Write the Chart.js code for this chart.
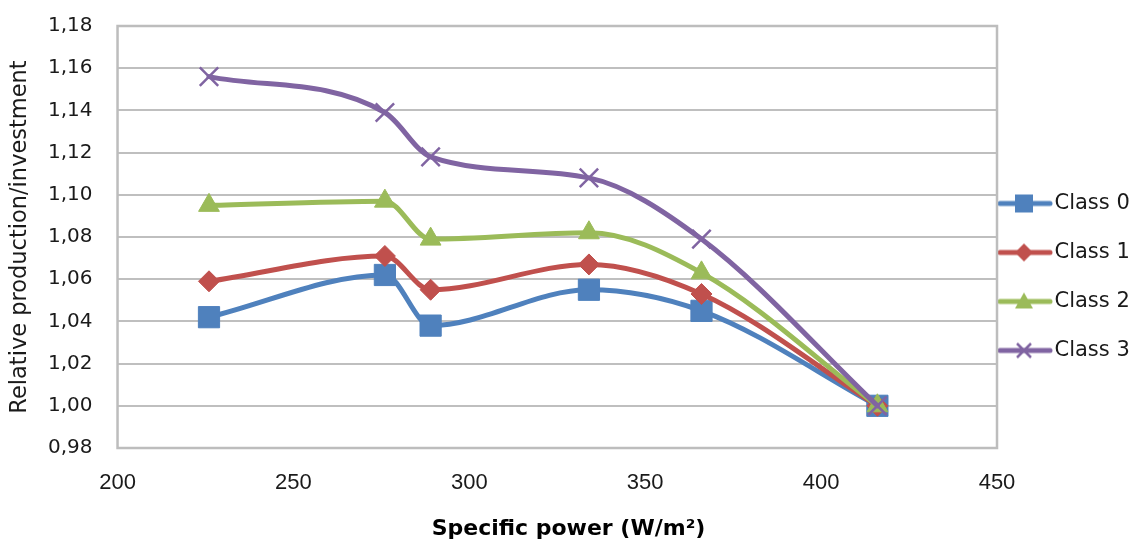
<!DOCTYPE html>
<html>
<head>
<meta charset="utf-8">
<script src="https://cdn.jsdelivr.net/npm/chart.js@4.4.1/dist/chart.umd.min.js"></script>
<style>
html,body{margin:0;padding:0;background:#ffffff;}
#wrap{width:1137px;height:544px;position:relative;}
</style>
</head>
<body>
<div id="wrap"><canvas id="chart"></canvas></div>
<script>
// ---- data ----
const specificPower = [226, 276, 289, 334, 366, 416];
const class0 = [1.042, 1.062, 1.038, 1.055, 1.045, 1.000];
const class1 = [1.059, 1.071, 1.055, 1.067, 1.053, 1.000];
const class2 = [1.095, 1.097, 1.079, 1.082, 1.063, 1.000];
const class3 = [1.156, 1.139, 1.118, 1.108, 1.079, 1.000];
const seriesNames = ['Class 0', 'Class 1', 'Class 2', 'Class 3'];
const xAxisRange = [200, 450, 50];   // min, max, step
const yAxisRange = [0.98, 1.18, 0.02];
const xTitle = 'Specific power (W/m²)';
const yTitle = 'Relative production/investment';

// ---- styles ----
const colors = ['#4F81BD', '#C0504D', '#9BBB59', '#8064A2'];
const styles = ['rect', 'rectRot', 'triangle', 'crossRot'];
const radii = [15, 10.5, 12, 13];
const seriesValues = [class0, class1, class2, class3];

function toPoints(xs, ys) { return xs.map((x, i) => ({x: x, y: ys[i]})); }

// legend icons: line with marker
function makeIcon(i) {
  const c = document.createElement('canvas');
  c.width = 75; c.height = 24;
  const g = c.getContext('2d');
  const col = colors[i];
  const cy = 12, cx = 27;
  g.strokeStyle = col; g.lineWidth = 5; g.lineCap = 'round';
  g.beginPath(); g.moveTo(3, cy); g.lineTo(53, cy); g.stroke();
  g.fillStyle = col;
  if (i === 0) {
    g.fillRect(cx - 9, cy - 9, 18, 18);
  } else if (i === 1) {
    g.beginPath(); g.moveTo(cx - 9, cy); g.lineTo(cx, cy - 9); g.lineTo(cx + 9, cy); g.lineTo(cx, cy + 9); g.closePath(); g.fill();
  } else if (i === 2) {
    g.beginPath(); g.moveTo(cx, cy - 9); g.lineTo(cx + 9, cy + 7); g.lineTo(cx - 9, cy + 7); g.closePath(); g.fill();
  } else {
    g.lineWidth = 2.5; g.lineCap = 'butt';
    g.beginPath(); g.moveTo(cx - 7, cy - 7); g.lineTo(cx + 7, cy + 7); g.moveTo(cx + 7, cy - 7); g.lineTo(cx - 7, cy + 7); g.stroke();
  }
  return c;
}
const legendIcons = [0, 1, 2, 3].map(makeIcon);

const datasets = seriesNames.map((name, i) => ({
  label: name,
  data: toPoints(specificPower, seriesValues[i]),
  borderColor: colors[i],
  backgroundColor: colors[i],
  borderWidth: 5,
  borderCapStyle: 'round',
  borderJoinStyle: 'round',
  cubicInterpolationMode: 'monotone',
  tension: 0.4,
  pointStyle: styles[i],
  pointRadius: radii[i],
  pointHoverRadius: radii[i],
  pointBackgroundColor: colors[i],
  pointBorderColor: colors[i],
  pointBorderWidth: i === 3 ? 2.5 : 1,
  order: 3 - i,
  clip: false
}));

const plotFrame = {
  id: 'plotFrame',
  beforeDatasetsDraw(chart) {
    const {ctx, chartArea: a} = chart;
    ctx.save();
    ctx.strokeStyle = '#bdbdbd';
    ctx.lineWidth = 2.5;
    ctx.strokeRect(a.left, a.top, a.right - a.left, a.bottom - a.top);
    ctx.restore();
  }
};

new Chart(document.getElementById('chart'), {
  type: 'line',
  data: {datasets: datasets},
  plugins: [plotFrame],
  options: {
    responsive: true,
    maintainAspectRatio: false,
    animation: false,
    layout: {padding: {top: 17, bottom: 7, left: 0, right: 0}},
    scales: {
      x: {
        type: 'linear',
        min: xAxisRange[0], max: xAxisRange[1],
        grid: {display: false, drawTicks: false},
        border: {display: false},
        ticks: {
          stepSize: xAxisRange[2],
          padding: 22,
          color: '#1a1a1a',
          font: {family: '"Liberation Sans", Arial, sans-serif', size: 22, lineHeight: 1.2}
        }
      },
      y: {
        min: yAxisRange[0], max: yAxisRange[1],
        grid: {color: '#bfbfbf', lineWidth: 2, drawTicks: true, tickLength: 11, tickColor: 'rgba(0,0,0,0)'},
        border: {display: false},
        ticks: {
          stepSize: yAxisRange[2],
          autoSkip: false,
          padding: 14,
          color: '#1a1a1a',
          font: {family: '"DejaVu Sans", sans-serif', size: 20, lineHeight: 1.2},
          callback: (v) => Number(v).toFixed(2).replace('.', ',')
        },
        title: {
          display: true,
          text: yTitle,
          color: '#1a1a1a',
          font: {family: '"DejaVu Sans", sans-serif', size: 22.5, lineHeight: 1.2},
          padding: {top: 7, bottom: 0}
        }
      }
    },
    plugins: {
      title: {
        display: true,
        position: 'bottom',
        text: xTitle,
        color: '#000000',
        font: {family: '"DejaVu Sans", sans-serif', size: 22, weight: 'bold', lineHeight: 1},
        padding: {top: 0, bottom: -3.4}
      },
      legend: {
        position: 'right',
        maxWidth: 140,
        labels: {
          usePointStyle: true,
          pointStyleWidth: 19,
          padding: 28,
          color: '#1a1a1a',
          font: {family: '"DejaVu Sans", sans-serif', size: 21},
          generateLabels: (chart) => chart.data.datasets.map((ds, i) => ({
            text: ds.label,
            pointStyle: legendIcons[i],
            fillStyle: ds.borderColor,
            strokeStyle: ds.borderColor,
            lineWidth: 0,
            fontColor: '#1a1a1a',
            hidden: !chart.isDatasetVisible(i),
            datasetIndex: i
          }))
        }
      },
      tooltip: {enabled: false}
    }
  }
});
</script>
</body>
</html>
